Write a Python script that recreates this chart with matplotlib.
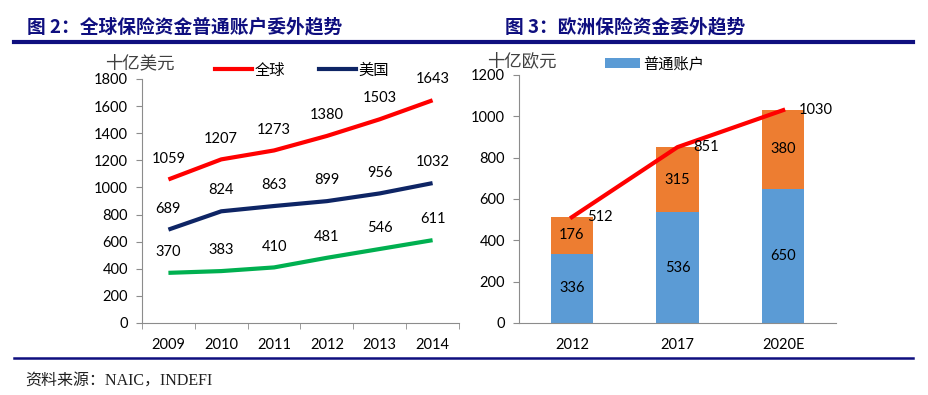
import matplotlib
matplotlib.use("Agg")
import matplotlib.pyplot as plt
from matplotlib.lines import Line2D
from matplotlib.patches import Patch
import numpy as np

plt.rcParams['font.family'] = ['Lato', 'Noto Sans CJK SC', 'DejaVu Sans']

# ---- data ----
years = ['2009', '2010', '2011', '2012', '2013', '2014']
global_vals = [1059, 1207, 1273, 1380, 1503, 1643]
us_vals = [689, 824, 863, 899, 956, 1032]
other_vals = [370, 383, 410, 481, 546, 611]

eu_years = ['2012', '2017', '2020E']
eu_general = [336, 536, 650]
eu_other = [176, 315, 380]
eu_total = [512, 851, 1030]

left_title = '图 2：全球保险资金普通账户委外趋势'
right_title = '图 3：欧洲保险资金委外趋势'
source_text = '资料来源：NAIC，INDEFI'

W, H = 929, 395
fig = plt.figure(figsize=(W / 100, H / 100), dpi=100)

def fx(px):
    return px / W

def fy(py):
    return 1 - py / H

navy = '#0F0F7F'
spine_c = '#8C8C8C'
fs = 10.5
cjk = ['Noto Sans CJK SC', 'DejaVu Sans']

# ---- left chart ----
ax1 = fig.add_axes([fx(142), fy(323), fx(459) - fx(142), fy(79) - fy(323)])
x = np.arange(len(years))
ax1.plot(x, global_vals, color='#FF0000', lw=3, solid_capstyle='butt', zorder=3)
ax1.plot(x, us_vals, color='#0E2565', lw=3, solid_capstyle='butt', zorder=3)
ax1.plot(x, other_vals, color='#00B050', lw=3, solid_capstyle='butt', zorder=3)
for series in (global_vals, us_vals, other_vals):
    for xi, v in zip(x, series):
        ax1.annotate(str(v), (xi, v), xytext=(0, 15), textcoords='offset points',
                     ha='center', va='center', fontsize=fs, color='black')
ax1.set_xlim(-0.5, len(years) - 0.5)
ax1.set_ylim(0, 1800)
ax1.set_yticks(np.arange(0, 1801, 200))
ax1.set_xticks(x)
ax1.set_xticklabels(years)
ax1.set_xticks(np.arange(-0.5, len(years), 1), minor=True)
ax1.tick_params(axis='x', which='major', length=0, pad=11, labelsize=fs)
ax1.tick_params(axis='x', which='minor', length=4, color=spine_c, direction='out')
ax1.tick_params(axis='y', length=4, color=spine_c, direction='out', pad=6, labelsize=fs)
for s in ('top', 'right'):
    ax1.spines[s].set_visible(False)
for s in ('left', 'bottom'):
    ax1.spines[s].set_color(spine_c)
fig.text(fx(105), fy(63), '十亿美元', family=cjk, fontsize=12.5, color='#404040',
         ha='left', va='center')
h1 = [Line2D([], [], color='#FF0000', lw=3), Line2D([], [], color='#0E2565', lw=3)]
fig.legend(h1, ['全球', '美国'], loc='center left', bbox_to_anchor=(fx(215), fy(70)),
           ncol=2, frameon=False, prop={'family': cjk, 'size': 11},
           handlelength=2.4, handletextpad=0.2, columnspacing=2.2,
           borderpad=0, borderaxespad=0)

# ---- right chart ----
ax2 = fig.add_axes([fx(519), fy(323), fx(836) - fx(519), fy(75) - fy(323)])
xe = np.arange(len(eu_years))
ax2.bar(xe, eu_general, width=0.4, color='#5B9BD5', zorder=2)
ax2.bar(xe, eu_other, width=0.4, bottom=eu_general, color='#ED7D31', zorder=2)
for xi, g, o in zip(xe, eu_general, eu_other):
    ax2.text(xi, g / 2, str(g), ha='center', va='center', fontsize=fs)
    ax2.text(xi, g + o / 2, str(o), ha='center', va='center', fontsize=fs)
ax2.plot(xe, eu_total, color='#FF0000', lw=3, zorder=4)
for xi, t in zip(xe, eu_total):
    ax2.annotate(str(t), (xi, t), xytext=(11, 0), textcoords='offset points',
                 ha='left', va='center', fontsize=fs, zorder=5)
ax2.set_xlim(-0.5, len(eu_years) - 0.5)
ax2.set_ylim(0, 1200)
ax2.set_yticks(np.arange(0, 1201, 200))
ax2.set_xticks(xe)
ax2.set_xticklabels(eu_years)
ax2.tick_params(axis='x', length=0, pad=11, labelsize=fs)
ax2.tick_params(axis='y', length=4, color=spine_c, direction='out', pad=6, labelsize=fs)
for s in ('top', 'right'):
    ax2.spines[s].set_visible(False)
for s in ('left', 'bottom'):
    ax2.spines[s].set_color(spine_c)
fig.text(fx(487), fy(61), '十亿欧元', family=cjk, fontsize=12.5, color='#404040',
         ha='left', va='center')
h2 = [Patch(facecolor='#5B9BD5')]
fig.legend(h2, ['普通账户'], loc='center left', bbox_to_anchor=(fx(605), fy(64)),
           frameon=False, prop={'family': cjk, 'size': 11},
           handlelength=2.3, handleheight=0.65, handletextpad=0.2,
           borderpad=0, borderaxespad=0)

# ---- titles and rules ----
fig.text(fx(27), fy(27), left_title, family=cjk, fontsize=13.5, fontweight='bold',
         color=navy, ha='left', va='center')
fig.text(fx(505), fy(27), right_title, family=cjk, fontsize=13.5, fontweight='bold',
         color=navy, ha='left', va='center')
fig.add_artist(Line2D([fx(14), fx(913)], [fy(42), fy(42)], color=navy, lw=3))
fig.add_artist(Line2D([fx(14), fx(913)], [fy(358), fy(358)], color=navy, lw=1.8))
fig.text(fx(25), fy(381), source_text, family=['Liberation Serif', 'Noto Sans CJK SC'],
         fontsize=11.5, color='#202020', ha='left', va='center')

fig.savefig('out.png', dpi=100)
